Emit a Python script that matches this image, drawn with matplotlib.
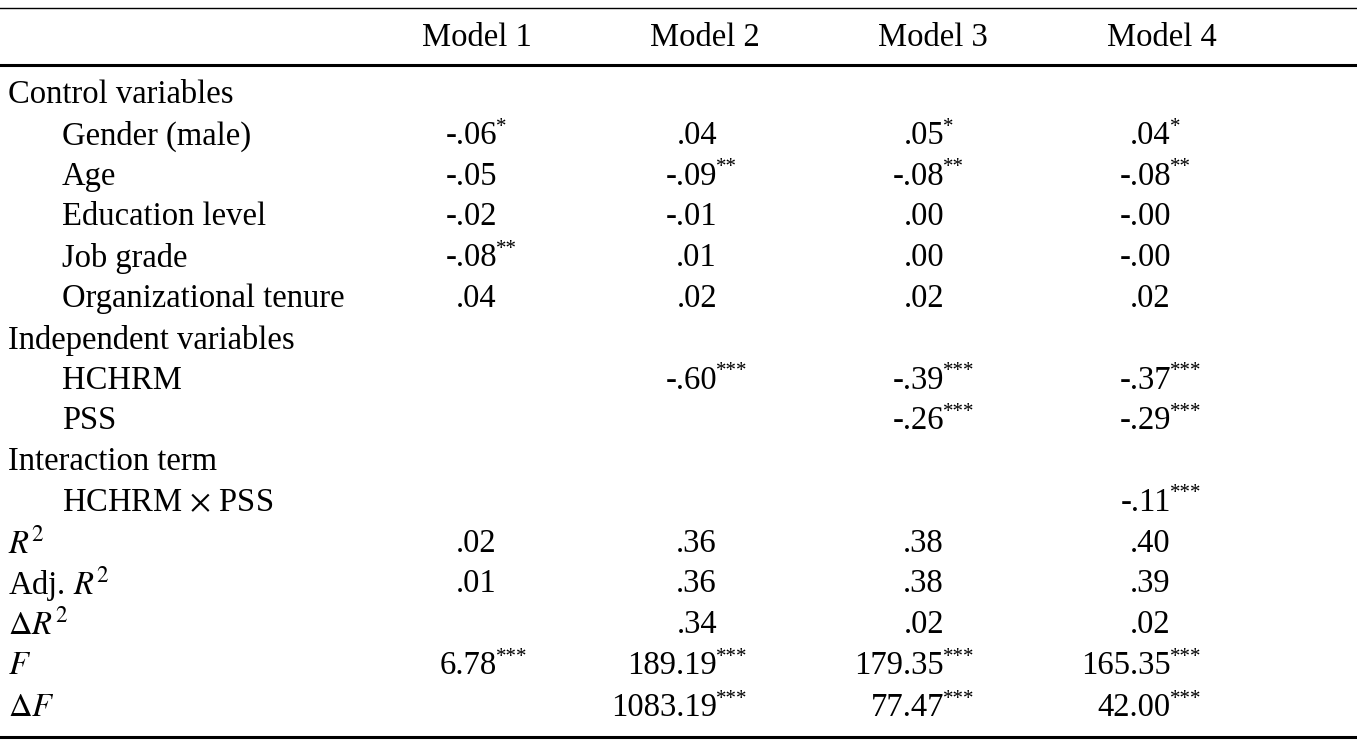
import matplotlib
matplotlib.use("Agg")
import matplotlib.pyplot as plt

plt.rcParams['font.family'] = ['Liberation Serif', 'DejaVu Serif']
plt.rcParams['mathtext.fontset'] = 'stix'

headers = ["Model 1", "Model 2", "Model 3", "Model 4"]
row_labels = ["Control variables", "Gender (male)", "Age", "Education level", "Job grade",
              "Organizational tenure", "Independent variables", "HCHRM", "PSS",
              "Interaction term", r"HCHRM $\times$ PSS", r"$R^2$", r"Adj. $R^2$",
              r"$\Delta R^2$", r"$F$", r"$\Delta F$"]
indent = [0, 1, 1, 1, 1, 1, 0, 1, 1, 0, 1, 0, 0, 0, 0, 0]
model1 = ["", "-.06*", "-.05", "-.02", "-.08**", ".04", "", "", "", "", "", ".02", ".01", "", "6.78***", ""]
model2 = ["", ".04", "-.09**", "-.01", ".01", ".02", "", "-.60***", "", "", "", ".36", ".36", ".34", "189.19***", "1083.19***"]
model3 = ["", ".05*", "-.08**", ".00", ".00", ".02", "", "-.39***", "-.26***", "", "", ".38", ".38", ".02", "179.35***", "77.47***"]
model4 = ["", ".04*", "-.08**", "-.00", "-.00", ".02", "", "-.37***", "-.29***", "", "-.11***", ".40", ".39", ".02", "165.35***", "42.00***"]

W, H = 1357, 745
fig = plt.figure(figsize=(W/100, H/100), dpi=100)
fx = lambda x: x / W
fy = lambda y: 1 - y / H
FS = 23.5

def hline(y, lw):
    fig.add_artist(plt.Line2D([0, 1], [fy(y), fy(y)], color='black', lw=lw, transform=fig.transFigure))

hline(8, 1.0)
hline(65, 2.2)
hline(737, 2.2)

header_x = [477, 705, 933, 1162]
for h, x in zip(headers, header_x):
    fig.text(fx(x), fy(38), h, ha='center', va='center', fontsize=FS)

row_y = [95, 136, 177, 217, 258, 299, 340, 381, 421, 462, 503, 544, 584, 625, 666, 708]
for lab, ind, y in zip(row_labels, indent, row_y):
    fig.text(fx(8 + 54 * ind), fy(y), lab, ha='left', va='center', fontsize=FS)

num_right = [497, 717, 944, 1171]
for vals, xr in zip([model1, model2, model3, model4], num_right):
    for v, y in zip(vals, row_y):
        if not v:
            continue
        num = v.rstrip('*')
        stars = v[len(num):]
        fig.text(fx(xr), fy(y), num, ha='right', va='center', fontsize=FS)
        if stars:
            fig.text(fx(xr - 1), fy(y - 9), stars, ha='left', va='center', fontsize=15)

fig.savefig("out.png", dpi=100)
